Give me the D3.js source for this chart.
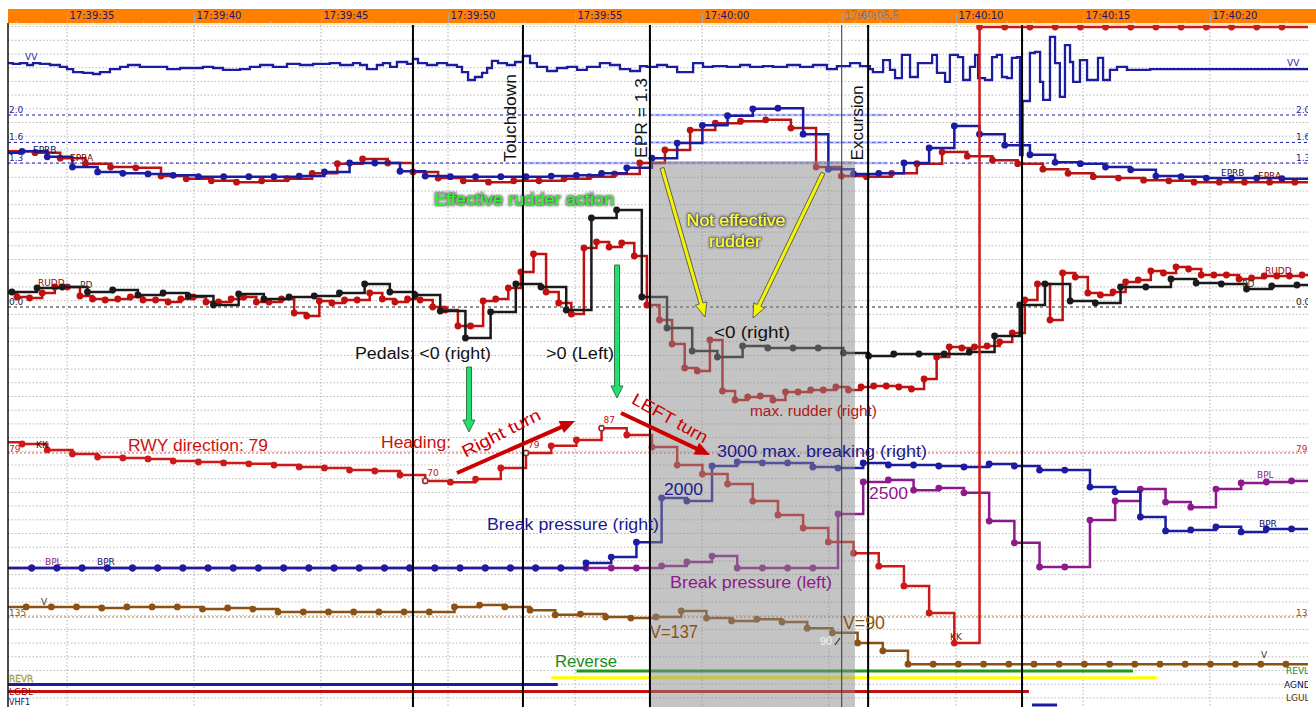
<!DOCTYPE html>
<html><head><meta charset="utf-8">
<script src="https://cdn.jsdelivr.net/npm/d3@7"></script>
<style>body{margin:0;background:#fff}svg{display:block}</style>
</head><body>
<svg id="c" width="1316" height="707"></svg>
<script>
// ================= DATA (seconds after 17:39:35) =================
const tickSeconds = [0,5,10,15,20,25,30.5,35,40,45];
const tickLabels  = ["17:39:35","17:39:40","17:39:45","17:39:50","17:39:55","17:40:00","17:40:05.5","17:40:10","17:40:15","17:40:20"];
const eventTimes  = [13.62, 17.95, 22.95, 31.54, 37.60];
const markerTime  = 30.5;
const shadedSpan  = [22.95, 31.02];

const sampleStep = 0.992;      // 1 Hz parameters
const ruddStep   = 0.496;      // 2 Hz rudder

// first value of each list = value held before the first sample
const eprbStart = -1.77;
const eprb = [1.45,1.47,1.39,1.24,1.17,1.15,1.14,1.12,1.10,1.10,1.10,1.10,1.11,1.17,1.30,1.30,1.18,1.11,1.10,1.10,1.10,1.10,1.11,1.12,1.15,1.23,1.37,1.59,1.85,1.99,2.09,2.10,1.72,1.21,1.14,1.15,1.30,1.52,1.84,1.72,1.56,1.42,1.31,1.29,1.24,1.20,1.11,1.10,1.08,1.08,1.08,1.07];
const epraStart = -1.26;
const epra = [1.47,1.45,1.37,1.29,1.24,1.23,1.11,1.07,1.04,1.02,1.04,1.07,1.15,1.29,1.36,1.30,1.17,1.08,1.04,1.02,1.04,1.04,1.07,1.10,1.14,1.30,1.49,1.78,1.88,1.91,1.93,1.81,1.24,1.11,1.10,1.15,1.29,1.46,1.40,1.34,1.29,1.21,1.15,1.10,1.08,1.05,1.04,1.02,1.02,1.02,1.02,1.02];

const pdStart = -2.17;
const pd = [3.0,3.0,3.8,4.0,3.0,3.4,2.4,2.8,2.2,0.4,2.6,1.6,2.0,2.2,2.8,4.6,3.0,2.4,-0.8,-6.2,-1.0,4.6,4.0,-0.6,17.8,19.4,2.0,-4.2,-8.8,-10.0,-7.8,-8.2,-8.2,-8.2,-9.2,-9.8,-9.4,-9.4,-9.4,-9.0,-5.8,0.4,4.6,1.2,0.8,4.0,4.0,5.6,4.8,4.6,3.6,4.2,4.4];

const ruddStart = -1.97;
const rudd = [2.8,
 2.0,1.8,2.8,4.0,4.0,2.2,1.6,1.4,1.6,2.0,
 1.4,1.4,1.0,1.6,2.0,1.0,1.0,1.6,2.0,1.0,
 1.0,1.6,-1.2,-1.8,1.2,0.8,1.4,1.4,2.8,1.6,
 1.0,1.6,1.4,0.0,-0.6,-3.8,-3.8,1.2,1.6,3.8,
 7.0,10.6,3.0,0.8,-1.4,11.8,13.0,12.0,12.8,10.2,
 0.4,-2.6,-7.4,-12.2,-12.8,-6.6,-16.8,-18.6,-18.0,-17.8,
 -18.6,-17.0,-17.0,-16.6,-16.6,-16.0,-16.6,-16.0,-15.8,-15.8,
 -16.0,-16.4,-14.4,-10.0,-8.0,-8.2,-8.0,-7.8,-7.0,-5.2,
 1.4,4.6,-2.6,6.8,6.0,2.8,2.4,3.0,5.0,5.4,
 7.2,6.8,8.0,7.6,6.4,6.4,6.4,5.6,5.8,6.2,
 6.2,6.2,6.4];

const hdgStart = -1.77;
const heading = [82.5,81.9,80.0,78.7,77.7,77.4,77.1,76.4,76.1,75.8,75.5,75.1,74.5,74.2,73.5,73.2,71.9,70.0,69.6,70.6,74.2,79.0,81.3,83.2,87.0,84.8,80.9,75.1,72.2,69.0,63.5,59.0,54.8,50.3,46.7,42.5,36.1,27.4,17.7,358,357,356,355,354,353,352,352,351,351,351,351,351];
const headingMarks = [16, 20, 23];
const headingMarkLabels = ["70","79","87"];

const bpStart = -1.39;
const bpr = [0,0,0,0,0,0,0,0,0,0,0,0,0,0,0,0,0,0,0,0,0,0,0,150,320,760,2060,1970,3000,3120,3090,3090,2970,2940,3090,3030,3030,3000,2970,3060,3000,2880,2880,2380,2240,1500,1090,1120,1210,1060,1150,1150];
const bpl = [0,0,0,0,0,0,0,0,0,0,0,0,0,0,0,0,0,0,0,0,0,0,0,0,0,0,60,180,350,0,0,0,0,1590,2530,2590,2290,2350,2210,1380,740,30,30,1410,1970,2320,1940,1790,2320,2500,2530,2560];

const spdStart = -1.61;
const speed = [163,163,163,163,160,163,163,163,157,160,157,149,149,149,149,149,149,149,163,168,163,154,141,143,135,132,135,152,132,124,129,121,104,91,63,41,4,4,4,4,4,4,4,4,4,4,4,4,4,4,4,4];

const vvTimes = [-2.32,-2.13,-1.85,-1.57,-1.34,-1.06,-0.67,-0.28,0,0.24,0.63,1.02,1.30,1.69,2.09,2.40,2.87,3.39,3.94,4.45,4.96,5.35,5.75,6.14,6.81,7.20,7.60,8.11,8.66,9.17,9.69,10.35,10.75,11.26,11.54,11.81,12.20,12.44,12.72,12.99,13.39,13.62,13.82,14.17,14.57,14.96,15.35,15.55,15.79,16.06,16.34,16.54,16.73,16.97,17.32,17.64,17.95,18.23,18.50,18.90,19.29,19.69,20.08,20.47,20.98,21.38,21.77,22.17,22.56,22.83,23.23,23.62,24.02,24.65,25.04,25.43,25.98,26.50,26.89,27.40,27.80,28.35,28.86,29.37,29.92,30.31,30.83,31.22,31.61,31.73,32.13,32.40,32.60,32.87,33.19,33.50,34.06,34.25,34.57,34.76,35.08,35.28,35.55,35.75,35.87,36.14,36.42,36.61,36.81,37.01,37.20,37.40,37.52,37.62,37.91,38.11,38.31,38.43,38.70,38.90,39.09,39.29,39.49,39.61,39.88,40.16,40.59,40.79,41.06,41.34,41.73,42.64,49];
const vvValues = [1.08,1.07,1.08,1.05,1.08,1.07,1.05,1.02,0.98,0.93,0.92,0.90,0.93,0.98,1.02,1.05,1.02,1.02,0.98,1.00,1.00,1.02,1.00,0.97,0.98,1.02,1.05,1.02,1.07,1.05,1.07,1.08,1.05,1.08,1.05,0.98,1.05,1.08,1.02,1.10,1.07,1.15,1.08,1.05,1.08,1.05,1.02,0.93,0.80,0.85,0.92,1.00,1.12,1.08,1.05,1.10,1.20,1.08,1.02,0.95,1.00,1.02,0.97,1.02,1.08,1.05,0.98,0.95,1.03,1.02,1.05,1.02,0.93,1.08,1.02,1.03,1.02,1.05,1.02,1.03,1.02,1.05,1.02,1.05,0.98,1.03,1.08,1.03,0.98,0.93,1.13,0.97,0.83,1.22,0.85,1.08,1.22,0.92,0.77,1.22,1.18,0.80,1.02,1.22,0.83,0.80,1.18,1.22,0.85,0.83,1.17,1.18,-0.45,0.45,1.25,1.27,0.77,0.47,1.52,1.08,0.52,1.38,1.10,0.77,1.13,0.80,1.17,0.80,0.97,1.02,0.97,0.98,0.98];

const discreteRows = ["REVL","REVR","AGND","LGDL","LGUL","VHF1"];
const revlOn = [[20.06, 41.97]];
const revrOn = [[19.06, 42.91]];
const agndOn = [[-2.5, 19.32]];
const lgdlOn = [[-2.5, 37.87]];
const lgulOn = [];
const vhf1On = [[37.99, 38.98]];

const eprRefs = [2.0, 1.6, 1.3];

// ================= CHART =================
const W = 1316, H = 707, L = 8, R = 1308, T = 25, B = 707;
const svg = d3.select("#c");
const defs = svg.append("defs");
defs.append("clipPath").attr("id","clip").append("rect").attr("x",L).attr("y",T).attr("width",R-L).attr("height",B-T);
defs.append("clipPath").attr("id","clipR").append("rect").attr("x",0).attr("y",0).attr("width",R).attr("height",H);
const f = defs.append("filter").attr("id","glow").attr("x","-10%").attr("y","-40%").attr("width","120%").attr("height","180%");
f.append("feMorphology").attr("in","SourceAlpha").attr("operator","dilate").attr("radius",1).attr("result","d");
f.append("feGaussianBlur").attr("in","d").attr("stdDeviation",1.1).attr("result","b");
f.append("feFlood").attr("flood-color","#333").attr("flood-opacity",0.75).attr("result","c");
f.append("feComposite").attr("in","c").attr("in2","b").attr("operator","in").attr("result","s");
const fm = f.append("feMerge"); fm.append("feMergeNode").attr("in","s"); fm.append("feMergeNode").attr("in","SourceGraphic");

const x = d3.scaleLinear().domain([-2.323, 48.858]).range([L, R]);
const yEPR = d3.scaleLinear().domain([1.3, 2.0]).range([163, 115]);
const yVV  = d3.scaleLinear().domain([1, 0]).range([68, 128]);
const yRud = d3.scaleLinear().domain([0, 10]).range([307, 257]);
const hTop = 27;
const yHdgS = d3.scaleLinear().domain([79, 89]).range([453, 422]);
const yHdg = v => Math.max(hTop, yHdgS(v));
const yBP  = d3.scaleLinear().domain([0, 3000]).range([568, 466]);
const ySpd = d3.scaleLinear().domain([135, 90]).range([617, 633.2]);
const yDisc = d3.scalePoint().domain(discreteRows).range([671, 705]);

const NAVY="#1c1ca0", RED="#c01010", EPRRED="#b81414", HRED="#cc1a1a", BLK="#1a1a1a", PURP="#8c1a8c", BRN="#8b5214";

svg.append("rect").attr("width",W).attr("height",H).attr("fill","#fff");

// orange time bar
svg.append("rect").attr("x",L).attr("y",9).attr("width",W-L).attr("height",14).attr("fill","#ff8000");
svg.append("rect").attr("x",L).attr("y",23).attr("width",W-L).attr("height",2).attr("fill","#f3e9c0");
const minorAx = svg.append("g").attr("transform","translate(0,23)")
  .call(d3.axisTop(x).tickValues(d3.range(-2,49,1)).tickSize(2).tickFormat(""));
minorAx.select(".domain").remove();
minorAx.selectAll("line").attr("stroke","#b8b8b8");
const majorAx = svg.append("g").attr("transform","translate(0,23)")
  .call(d3.axisTop(x).tickValues(tickSeconds).tickSize(10).tickFormat((d,i)=>tickLabels[i]));
majorAx.select(".domain").remove();
majorAx.selectAll("line").attr("stroke","#a8a8a8");
majorAx.selectAll("text").attr("text-anchor","start").attr("x",2).attr("y",-4).attr("dy",null)
  .attr("font-family","DejaVu Sans, Verdana, sans-serif").attr("font-size",10)
  .attr("fill",(d)=> d===30.5 ? "#e8e8f0" : "#16167a")
  .attr("stroke",(d)=> d===30.5 ? "#333366" : "none").attr("stroke-width",0.4);

const plot = svg.append("g").attr("clip-path","url(#clip)");

// gridlines
plot.append("g").selectAll("line").data(d3.range(0,50)).join("line")
  .attr("x1",L).attr("x2",R).attr("y1",n=>26.6+13.7*n).attr("y2",n=>26.6+13.7*n)
  .attr("stroke","#b8b8b8").attr("stroke-dasharray","1.5,2");
plot.append("g").selectAll("line").data(d3.range(0,50,5)).join("line")
  .attr("x1",d=>x(d)).attr("x2",d=>x(d)).attr("y1",T).attr("y2",B)
  .attr("stroke","#b0b0b0").attr("stroke-dasharray","1.5,2");

// reference lines
plot.append("g").selectAll("line").data(eprRefs).join("line")
  .attr("x1",L).attr("x2",R).attr("y1",d=>yEPR(d)).attr("y2",d=>yEPR(d))
  .attr("stroke",NAVY).attr("stroke-dasharray","3,3");
plot.append("line").attr("x1",L).attr("x2",R).attr("y1",yRud(0)).attr("y2",yRud(0)).attr("stroke","#222").attr("stroke-dasharray","3,3");
plot.append("line").attr("x1",L).attr("x2",R).attr("y1",yHdgS(79)).attr("y2",yHdgS(79)).attr("stroke","#e05050").attr("stroke-dasharray","2,2");
plot.append("line").attr("x1",L).attr("x2",R).attr("y1",ySpd(135)).attr("y2",ySpd(135)).attr("stroke","#b97a3a").attr("stroke-dasharray","2,2");
// highlight of EPR levels
const hl = plot.append("g").attr("stroke","#8a90ff").attr("stroke-width",2.5).attr("opacity",0.55);
hl.append("line").attr("x1",x(17.95)).attr("x2",x(32.3)).attr("y1",yEPR(1.3)).attr("y2",yEPR(1.3));
[1.6,2.0].forEach(v=>hl.append("line").attr("x1",x(22.95)).attr("x2",x(32.3)).attr("y1",yEPR(v)).attr("y2",yEPR(v)));

// discrete lines
const discColors = {REVL:"#1f9a1f",REVR:"#ffff00",AGND:NAVY,LGDL:"#c01010",LGUL:"#553300",VHF1:NAVY};
const discData = {REVL:revlOn,REVR:revrOn,AGND:agndOn,LGDL:lgdlOn,LGUL:lgulOn,VHF1:vhf1On};
discreteRows.forEach(r=>{
  plot.append("g").selectAll("line").data(discData[r]).join("line")
    .attr("x1",d=>x(d[0])).attr("x2",d=>x(d[1])).attr("y1",yDisc(r)).attr("y2",yDisc(r))
    .attr("stroke",discColors[r]).attr("stroke-width",3);
});

function sampled(start, step, vals){
  const pts=[{t:x.domain()[0]-0.5,v:vals[0],dot:false}];
  for(let i=1;i<vals.length;i++) pts.push({t:start+step*(i-1),v:vals[i],dot:true});
  pts.push({t:x.domain()[1]+0.5,v:vals[vals.length-1],dot:false});
  return pts;
}
function drawSeries(pts, yf, color, dots=true, w=2.5){
  const g = plot.append("g");
  g.append("path").datum(pts)
    .attr("d", d3.line().x(d=>x(d.t)).y(d=>yf(d.v)).curve(d3.curveStepAfter))
    .attr("fill","none").attr("stroke",color).attr("stroke-width",w).attr("stroke-linejoin","miter");
  if(dots) g.selectAll("circle").data(pts.filter(d=>d.dot)).join("circle")
    .attr("cx",d=>x(d.t)).attr("cy",d=>yf(d.v)).attr("r",3.4).attr("fill",color);
  return g;
}

// VV
const vvPts = vvTimes.map((t,i)=>({t, v:vvValues[i]}));
drawSeries(vvPts, yVV, NAVY, false, 2.3);
// EPR
drawSeries(sampled(epraStart,sampleStep,epra), yEPR, EPRRED);
drawSeries(sampled(eprbStart,sampleStep,eprb), yEPR, NAVY);
// rudder & pedals
drawSeries(sampled(ruddStart,ruddStep,rudd), yRud, RED);
drawSeries(sampled(pdStart,sampleStep,pd), yRud, BLK);
// brake pressures
drawSeries(sampled(bpStart,sampleStep,bpl), yBP, PURP);
drawSeries(sampled(bpStart,sampleStep,bpr), yBP, NAVY);
// speed
drawSeries(sampled(spdStart,sampleStep,speed), ySpd, BRN);
// heading
const hPts = sampled(hdgStart,sampleStep,heading);
drawSeries(hPts, yHdg, HRED);
plot.append("g").selectAll("rect").data(headingMarks).join("rect")
  .attr("x",k=>x(hdgStart+sampleStep*k)-2).attr("y",k=>yHdg(heading[k+1])-2).attr("width",4).attr("height",4)
  .attr("fill","#fff").attr("stroke","#444").attr("stroke-width",0.8);
plot.append("g").selectAll("text").data(headingMarks).join("text")
  .attr("x",k=>x(hdgStart+sampleStep*k)+2).attr("y",k=>yHdg(heading[k+1])-5)
  .text((k,i)=>headingMarkLabels[i]).attr("font-family","DejaVu Sans").attr("font-size",9).attr("fill","#c01010");

// shaded window
plot.append("rect").attr("x",x(shadedSpan[0])).attr("y",161).attr("width",x(shadedSpan[1])-x(shadedSpan[0])).attr("height",B-161)
  .attr("fill","#8a8a8a").attr("opacity",0.5);

// event lines
plot.append("g").selectAll("line").data(eventTimes).join("line")
  .attr("x1",d=>x(d)).attr("x2",d=>x(d)).attr("y1",T).attr("y2",B).attr("stroke","#000").attr("stroke-width",2);
plot.append("line").attr("x1",x(markerTime)).attr("x2",x(markerTime)).attr("y1",T).attr("y2",B).attr("stroke","#333").attr("stroke-width",1);
// left border
svg.append("line").attr("x1",L).attr("x2",L).attr("y1",T-2).attr("y2",B).attr("stroke","#111").attr("stroke-width",1.5);

// ================= LABELS =================
const lab = svg.append("g").attr("clip-path","url(#clipR)").attr("font-family","DejaVu Sans, Verdana, sans-serif").attr("font-size",9);
function t(xp,yp,s,c,opts={}){
  const e = lab.append("text").attr("x",xp).attr("y",yp).text(s).attr("fill",c);
  if(opts.size) e.attr("font-size",opts.size);
  return e;
}
// scale labels
[["2.0",yEPR(2.0)],["1.6",yEPR(1.6)],["1.3",yEPR(1.3)]].forEach(([s,yv])=>{t(9,yv-2,s,NAVY);t(1296,yv-2,s,NAVY);});
t(9,yRud(0)-2,"0.0","#222"); t(1296,yRud(0)-2,"0.0","#222");
t(9,yHdgS(79)-1,"79","#d02020"); t(1296,yHdgS(79)-1,"79","#d02020");
t(9,ySpd(135)-1,"135",BRN); t(1296,ySpd(135)-1,"135",BRN);
// series labels
t(25,60,"VV",NAVY); t(1287,66,"VV",NAVY);
t(33,153,"EPRB","#101050"); t(70,161,"EPRA","#7a0000");
t(1221,176,"EPRB","#101050"); t(1258,179,"EPRA","#7a0000");
t(38,286,"RUDD","#a00000"); t(80,288,"PD","#333");
t(1265,274,"RUDD","#a00000"); t(1242,287,"PD","#333");
t(36,448,"KK","#400"); t(950,640,"KK","#900");
t(45,565,"BPL",PURP); t(97,565,"BPR","#101060");
t(1257,478,"BPL",PURP); t(1259,527,"BPR","#101060");
t(41,605,"V","#5a3000"); t(1261,658,"V","#5a3000");
t(9,682,"REVR","#d0d000").attr("stroke","#777").attr("stroke-width",0.3);
t(9,695,"LGDL","#a00000"); t(9,705,"VHF1","#101060",{size:8});
t(1286,674,"REVL","#1a8a1a"); t(1284,688,"AGND","#101060"); t(1286,701,"LGUL","#553300");

// ================= ANNOTATIONS =================
const ann = svg.append("g").attr("font-family","Liberation Sans, Arial, sans-serif");
function A(xp,yp,s,c,size,len,anchor="start"){
  const e = ann.append("text").attr("x",xp).attr("y",yp).text(s).attr("fill",c).attr("font-size",size).attr("text-anchor",anchor);
  if(len) e.attr("textLength",len).attr("lengthAdjust","spacingAndGlyphs");
  return e;
}
function rot(cx,cy,s,size,len,ang,c){
  ann.append("text").attr("transform",`translate(${cx},${cy}) rotate(${ang})`).attr("text-anchor","middle").attr("dy","0.35em")
    .attr("font-size",size).attr("fill",c).attr("textLength",len).attr("lengthAdjust","spacingAndGlyphs").text(s);
}
rot(510,118,"Touchdown",17,88,-90,"#111");
rot(641,118,"EPR = 1.3",17,80,-90,"#111");
rot(857,123,"Excursion",17,75,-90,"#111");

A(434,205,"Effective rudder  action","#33f033",16,180).attr("filter","url(#glow)");
A(736,226,"Not effective","#ffff33",16,99,"middle").attr("filter","url(#glow)");
A(735,247,"rudder","#ffff33",16,52,"middle").attr("filter","url(#glow)");

A(714,338,"<0 (right)","#111",16,76);
A(750,416,"max. rudder (right)","#b01818",14,127);
A(355,359,"Pedals: <0 (right)","#111",16,136);
A(546,359,">0 (Left)","#111",16,68);
A(381,448,"Heading:","#cc1111",16,70);
A(128,451,"RWY direction: 79","#cc1111",16,140);
rot(501,433,"Right turn",17,86,-27,"#cc0000");
rot(670,418,"LEFT turn",17,84,29,"#cc0000");
A(717,457,"3000 max. breaking (right)","#1a1a8c",16,210);
A(664,495,"2000","#1a1a8c",16,39);
A(487,530,"Break pressure (right)","#1a1a8c",16,172);
A(670,588,"Break pressure (left)","#8c1a8c",16,162);
A(869,499,"2500","#8c1a8c",16,39);
A(650,638,"V=137",BRN,18,48);
A(843,629,"V=90",BRN,18,42);
A(820,645,"90","#f4f4f4",10,12);
ann.append("line").attr("x1",835).attr("y1",645).attr("x2",840).attr("y2",638).attr("stroke","#333").attr("stroke-width",1.2);
A(555,667,"Reverse","#1a8a1a",17,62);

function arrow(x1,y1,x2,y2,w,hl,hw,fill,stroke,sw){
  const dx=x2-x1, dy=y2-y1, L=Math.hypot(dx,dy), ux=dx/L, uy=dy/L, nx=-uy, ny=ux;
  const bx=x2-ux*hl, by=y2-uy*hl;
  const p=[[x1+nx*w/2,y1+ny*w/2],[bx+nx*w/2,by+ny*w/2],[bx+nx*hw/2,by+ny*hw/2],[x2,y2],[bx-nx*hw/2,by-ny*hw/2],[bx-nx*w/2,by-ny*w/2],[x1-nx*w/2,y1-ny*w/2]];
  ann.append("path").attr("d","M"+p.map(q=>q.join(",")).join("L")+"Z").attr("fill",fill).attr("stroke",stroke||"none").attr("stroke-width",sw||0);
}
arrow(662,168,705,317,4,14,12,"#f5f500","#555",0.9);
arrow(823,173,753,318,4,14,12,"#f5f500","#555",0.9);
arrow(469,367,469,432,5,12,12,"#22e070","#2a6a3a",0.9);
arrow(617,265,617,398,5,12,12,"#22e070","#2a6a3a",0.9);
arrow(457,473,575,421,4,15,13,"#cc0000");
arrow(621,413,710,455,4,15,13,"#cc0000");
</script>
</body></html>
